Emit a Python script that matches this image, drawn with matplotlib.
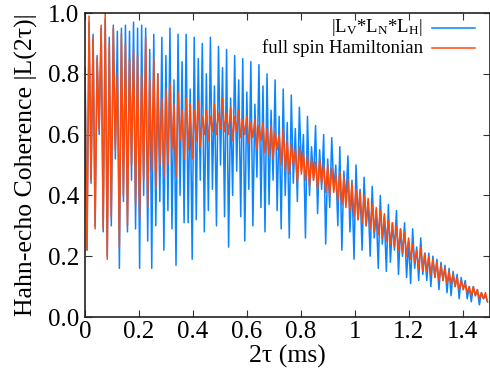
import numpy as np
import matplotlib
matplotlib.use("Agg")
import matplotlib.pyplot as plt

plt.rcParams['font.family'] = ['Liberation Serif', 'DejaVu Serif']
plt.rcParams['mathtext.fontset'] = 'custom'
plt.rcParams['mathtext.rm'] = 'Liberation Serif'
plt.rcParams['mathtext.it'] = 'Liberation Serif:italic'

# time step between samples (ms)
dt = 0.0075

blue_vals = [
    0.82, 0.22, 0.97, 0.44, 0.93, 0.30, 0.86, 0.60, 0.95, 0.28,
    0.98, 0.20, 0.92, 0.30, 0.96, 0.52, 0.94, 0.16, 0.95, 0.38,
    0.96, 0.28, 0.94, 0.45, 0.97, 0.29, 0.95, 0.16, 0.96, 0.40,
    0.95, 0.25, 0.88, 0.16, 0.93, 0.30, 0.80, 0.38, 0.92, 0.22,
    0.86, 0.35, 0.95, 0.29, 0.78, 0.17, 0.93, 0.40, 0.84, 0.31,
    0.93, 0.31, 0.75, 0.19, 0.92, 0.32, 0.85, 0.45, 0.90, 0.28,
    0.80, 0.35, 0.92, 0.42, 0.76, 0.30, 0.89, 0.50, 0.82, 0.33,
    0.88, 0.23, 0.72, 0.40, 0.86, 0.48, 0.78, 0.33, 0.85, 0.25,
    0.74, 0.42, 0.84, 0.30, 0.70, 0.46, 0.83, 0.36, 0.76, 0.28,
    0.80, 0.37, 0.68, 0.45, 0.78, 0.35, 0.66, 0.29, 0.75, 0.40,
    0.64, 0.26, 0.73, 0.44, 0.62, 0.38, 0.69, 0.48, 0.60, 0.26,
    0.66, 0.40, 0.56, 0.45, 0.63, 0.34, 0.55, 0.42, 0.60, 0.24,
    0.52, 0.36, 0.59, 0.42, 0.50, 0.30, 0.56, 0.22, 0.48, 0.38,
    0.53, 0.28, 0.45, 0.19, 0.50, 0.32, 0.42, 0.22, 0.46, 0.30,
    0.38, 0.20, 0.43, 0.26, 0.35, 0.16, 0.40, 0.24, 0.33, 0.15,
    0.37, 0.18, 0.31, 0.22, 0.35, 0.14, 0.29, 0.20, 0.31, 0.13,
    0.25, 0.11, 0.29, 0.16, 0.23, 0.12, 0.26, 0.14, 0.21, 0.12,
    0.21, 0.10, 0.20, 0.13, 0.19, 0.09, 0.18, 0.12, 0.17, 0.08,
    0.16, 0.07, 0.15, 0.10, 0.14, 0.06, 0.13, 0.09, 0.12, 0.06,
    0.10, 0.05, 0.10, 0.07, 0.09, 0.04, 0.08, 0.06, 0.07, 0.05,
]

orange_vals = [
    0.82, 0.22, 0.99, 0.45, 0.92, 0.29, 0.85, 0.62, 0.96, 0.29,
    1.00, 0.19, 0.90, 0.33, 0.95, 0.55, 0.80, 0.23, 0.93, 0.40,
    0.90, 0.30, 0.85, 0.50, 0.88, 0.37, 0.86, 0.32, 0.80, 0.45,
    0.92, 0.36, 0.78, 0.48, 0.85, 0.42, 0.80, 0.50, 0.72, 0.46,
    0.75, 0.50, 0.77, 0.55, 0.70, 0.46, 0.74, 0.58, 0.68, 0.52,
    0.72, 0.55, 0.70, 0.52, 0.68, 0.58, 0.71, 0.56, 0.66, 0.60,
    0.68, 0.58, 0.66, 0.61, 0.70, 0.60, 0.67, 0.62, 0.72, 0.61,
    0.67, 0.60, 0.69, 0.58, 0.66, 0.61, 0.68, 0.59, 0.65, 0.60,
    0.66, 0.57, 0.64, 0.59, 0.65, 0.55, 0.63, 0.58, 0.64, 0.54,
    0.62, 0.53, 0.63, 0.52, 0.61, 0.55, 0.60, 0.50, 0.62, 0.48,
    0.58, 0.47, 0.57, 0.50, 0.55, 0.44, 0.56, 0.47, 0.54, 0.45,
    0.53, 0.43, 0.52, 0.45, 0.51, 0.42, 0.52, 0.44, 0.50, 0.41,
    0.50, 0.40, 0.49, 0.41, 0.47, 0.38, 0.48, 0.37, 0.46, 0.36,
    0.45, 0.35, 0.44, 0.33, 0.42, 0.32, 0.41, 0.31, 0.40, 0.30,
    0.39, 0.29, 0.37, 0.28, 0.36, 0.27, 0.35, 0.26, 0.34, 0.25,
    0.32, 0.24, 0.31, 0.23, 0.30, 0.22, 0.29, 0.21, 0.28, 0.20,
    0.26, 0.19, 0.24, 0.18, 0.22, 0.16, 0.23, 0.15, 0.21, 0.15,
    0.20, 0.14, 0.19, 0.13, 0.18, 0.12, 0.17, 0.12, 0.16, 0.11,
    0.15, 0.11, 0.14, 0.10, 0.13, 0.09, 0.12, 0.09, 0.11, 0.08,
    0.10, 0.07, 0.10, 0.07, 0.09, 0.06, 0.08, 0.06, 0.08, 0.05,
]

t_blue = np.arange(len(blue_vals)) * dt
t_orange = np.arange(len(orange_vals)) * dt

xticks = [0, 0.2, 0.4, 0.6, 0.8, 1.0, 1.2, 1.4]
xticklabels = ["0", "0.2", "0.4", "0.6", "0.8", "1", "1.2", "1.4"]
yticks = [0.0, 0.2, 0.4, 0.6, 0.8, 1.0]
yticklabels = ["0.0", "0.2", "0.4", "0.6", "0.8", "1.0"]

label_blue = r"|L$_{\rm V}$*L$_{\rm N}$*L$_{\rm H}$|"
label_orange = "full spin Hamiltonian"

c_blue = "#0a84ff"
c_orange = "#ff4a0a"

fig = plt.figure(figsize=(4.9, 3.71), dpi=100)
ax = fig.add_axes([85/490, 1-317/371, 404.5/490, 304/371])

ax.plot(t_blue, blue_vals, color=c_blue, lw=1.1)
ax.plot(t_orange, orange_vals, color=c_orange, lw=1.1)

ax.set_xlim(0, 1.5)
ax.set_ylim(0, 1.0)
ax.set_xticks(xticks)
ax.set_xticklabels(xticklabels)
ax.set_yticks(yticks)
ax.set_yticklabels(yticklabels)
ax.tick_params(direction='in', top=True, right=True, length=5, width=0.8,
               labelsize=18, color='#333333')
ax.tick_params(axis='x', pad=3)
ax.tick_params(axis='y', pad=4.5)
for s in ax.spines.values():
    s.set_linewidth(1.2)
    s.set_color('#222222')

ax.set_xlabel("2τ (ms)", fontsize=18.5, labelpad=1)
ax.set_ylabel("Hahn-echo Coherence |L(2τ)|", fontsize=18.5, labelpad=7)

# legend (gnuplot style: right-aligned text, sample to the right)
ax.text(0.835, 0.951, label_blue, transform=ax.transAxes, ha='right',
        va='center', fontsize=13.5)
ax.text(0.835, 0.885, label_orange, transform=ax.transAxes, ha='right',
        va='center', fontsize=13.5)
ax.plot([0.859, 0.963], [0.951, 0.951], transform=ax.transAxes,
        color=c_blue, lw=1.1)
ax.plot([0.859, 0.963], [0.885, 0.885], transform=ax.transAxes,
        color=c_orange, lw=1.1)

fig.savefig("out.png", dpi=100)
